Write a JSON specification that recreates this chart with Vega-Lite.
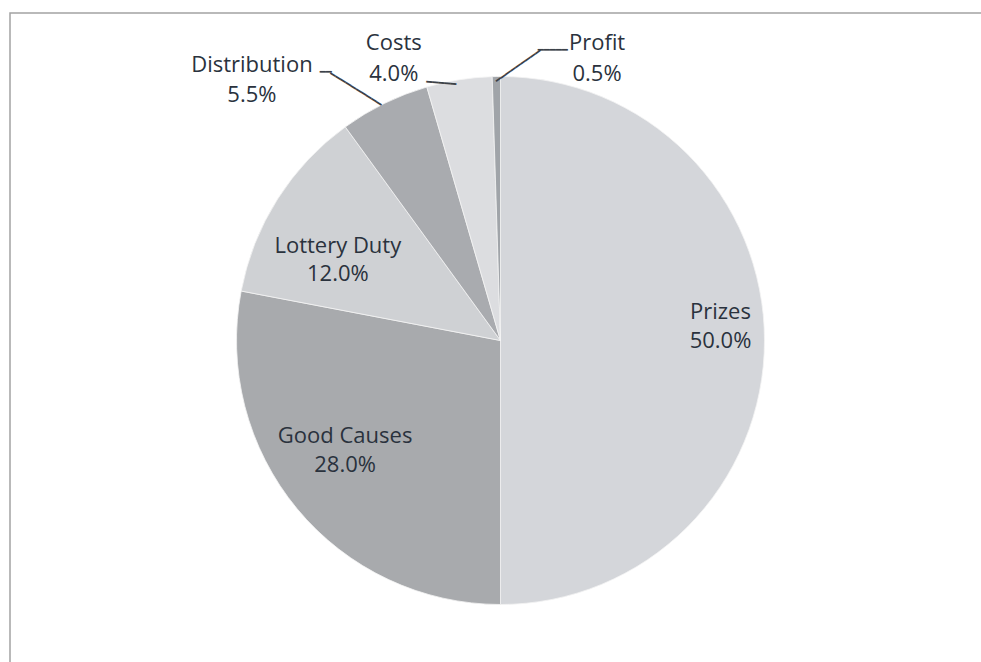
{
  "$schema": "https://vega.github.io/schema/vega-lite/v6.json",
  "width": 981,
  "height": 655,
  "autosize": "none",
  "padding": {"left": 10, "top": 13, "right": -10, "bottom": -6},
  "background": "#ffffff",
  "view": {"stroke": "#a3a3a3", "strokeWidth": 1.5},
  "config": {"view": {"stroke": "#a3a3a3", "strokeWidth": 1.5}},
  "data": {"values": [
    {"cat": "Prizes", "pct": 50.0, "i": 1, "label": "Prizes\n50.0%"},
    {"cat": "Good Causes", "pct": 28.0, "i": 2, "label": "Good Causes\n28.0%"},
    {"cat": "Lottery Duty", "pct": 12.0, "i": 3, "label": "Lottery Duty\n12.0%"},
    {"cat": "Distribution", "pct": 5.5, "i": 4, "label": "Distribution\n5.5%"},
    {"cat": "Costs", "pct": 4.0, "i": 5, "label": "Costs\n4.0%"},
    {"cat": "Profit", "pct": 0.5, "i": 6, "label": "Profit\n0.5%"}
  ]},
  "encoding": {
    "theta": {"field": "pct", "type": "quantitative", "stack": true},
    "order": {"field": "i", "type": "quantitative"}
  },
  "layer": [
    {
      "mark": {"type": "arc", "outerRadius": 264, "stroke": "#f4f4f4", "strokeWidth": 0.8},
      "encoding": {
        "color": {"field": "cat", "type": "nominal", "legend": null,
          "scale": {"domain": ["Prizes", "Good Causes", "Lottery Duty", "Distribution", "Costs", "Profit"],
                    "range": ["#d4d6da", "#a8aaad", "#cfd1d4", "#a9abaf", "#dcdde0", "#a0a4a9"]}}
      }
    },
    {
      "mark": {"type": "text", "radius": 220, "dx": 0, "dy": -29, "font": "Open Sans", "fontSize": 22, "lineHeight": 29, "lineBreak": "\n", "color": "#2a323d", "align": "center", "baseline": "middle"},
      "encoding": {"text": {"condition": {"test": "datum.cat === 'Prizes'", "field": "label"}, "value": ""}}
    },
    {
      "mark": {"type": "text", "radius": 190, "dx": -9, "dy": -26, "font": "Open Sans", "fontSize": 22, "lineHeight": 29, "lineBreak": "\n", "color": "#2a323d", "align": "center", "baseline": "middle"},
      "encoding": {"text": {"condition": {"test": "datum.cat === 'Good Causes'", "field": "label"}, "value": ""}}
    },
    {
      "mark": {"type": "text", "radius": 182, "dx": -9, "dy": 3, "font": "Open Sans", "fontSize": 22, "lineHeight": 28, "lineBreak": "\n", "color": "#2a323d", "align": "center", "baseline": "middle"},
      "encoding": {"text": {"condition": {"test": "datum.cat === 'Lottery Duty'", "field": "label"}, "value": ""}}
    },
    {
      "mark": {"type": "text", "radius": 290, "dx": -121, "dy": -15, "font": "Open Sans", "fontSize": 22, "lineHeight": 30, "lineBreak": "\n", "color": "#2a323d", "align": "center", "baseline": "middle"},
      "encoding": {"text": {"condition": {"test": "datum.cat === 'Distribution'", "field": "label"}, "value": ""}}
    },
    {
      "mark": {"type": "text", "radius": 286, "dx": -62, "dy": -15, "font": "Open Sans", "fontSize": 22, "lineHeight": 31, "lineBreak": "\n", "color": "#2a323d", "align": "center", "baseline": "middle"},
      "encoding": {"text": {"condition": {"test": "datum.cat === 'Costs'", "field": "label"}, "value": ""}}
    },
    {
      "mark": {"type": "text", "radius": 283, "dx": 101, "dy": -15, "font": "Open Sans", "fontSize": 22, "lineHeight": 31, "lineBreak": "\n", "color": "#2a323d", "align": "center", "baseline": "middle"},
      "encoding": {"text": {"condition": {"test": "datum.cat === 'Profit'", "field": "label"}, "value": ""}}
    },
    {
      "mark": {"type": "text", "radius": 322, "dx": -33, "dy": 21, "font": "DejaVu Sans Mono", "fontSize": 10, "color": "#3c4148", "align": "center", "baseline": "middle"},
      "encoding": {"text": {"condition": {"test": "datum.cat === 'Distribution'", "value": "━━"}, "value": ""}}
    },
    {
      "mark": {"type": "text", "radius": 291, "dx": -8.8, "dy": 17.5, "angle": 32, "font": "DejaVu Sans Mono", "fontSize": 10, "color": "#3c4148", "align": "center", "baseline": "middle"},
      "encoding": {"text": {"condition": {"test": "datum.cat === 'Distribution'", "value": "━━━━━━━━━━"}, "value": ""}}
    },
    {
      "mark": {"type": "text", "radius": 266, "dx": -17, "dy": 7, "angle": 5, "font": "DejaVu Sans Mono", "fontSize": 10, "color": "#3c4148", "align": "center", "baseline": "middle"},
      "encoding": {"text": {"condition": {"test": "datum.cat === 'Costs'", "value": "━━━━━"}, "value": ""}}
    },
    {
      "mark": {"type": "text", "radius": 277, "dx": 16.8, "dy": 14.9, "angle": -35, "font": "DejaVu Sans Mono", "fontSize": 10, "color": "#3c4148", "align": "center", "baseline": "middle"},
      "encoding": {"text": {"condition": {"test": "datum.cat === 'Profit'", "value": "━━━━━━━━━"}, "value": ""}}
    },
    {
      "mark": {"type": "text", "radius": 297, "dx": 57, "dy": 6, "font": "DejaVu Sans Mono", "fontSize": 10, "color": "#3c4148", "align": "center", "baseline": "middle"},
      "encoding": {"text": {"condition": {"test": "datum.cat === 'Profit'", "value": "━━━━━"}, "value": ""}}
    }
  ]
}
